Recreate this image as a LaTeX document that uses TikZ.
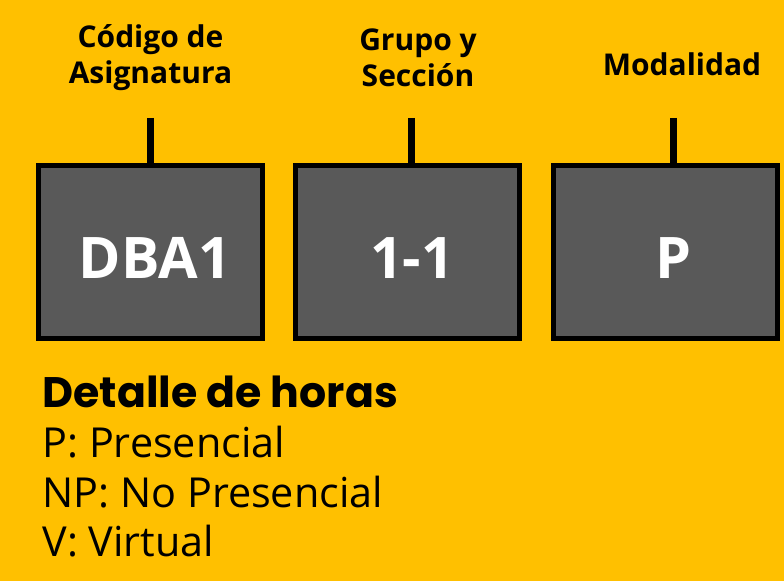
\documentclass[tikz,border=0pt]{standalone}
\usepackage{fontspec}
\setmainfont{Open Sans}
\newfontfamily\headfont{Poppins}
\usetikzlibrary{positioning}

\definecolor{fondo}{RGB}{255,192,0}
\definecolor{caja}{RGB}{89,89,89}

\tikzset{every picture/.style={line width=0.75pt}}
\tikzset{
  campo/.style={draw=black, fill=caja, line width=3.75pt, minimum width=224*0.75pt, minimum height=173*0.75pt, inner sep=0pt},
  valor/.style={anchor=base, inner sep=0pt, text=white, font=\bfseries\fontsize{43}{45}\selectfont},
  etiqueta/.style={inner sep=0.75pt, align=center, font=\bfseries\fontsize{22.5}{27}\selectfont},
  conector/.style={line width=5.25pt},
  leyenda/.style={anchor=base west, inner sep=0pt, font=\fontsize{31}{33}\selectfont}
}

\begin{document}
\begin{tikzpicture}[x=0.75pt,y=0.75pt,yscale=-1,xscale=1]
    %set diagram area: 784 x 581
    \fill[fondo] (0,0) rectangle (784,581);
    \useasboundingbox (0,0) rectangle (784,581);
    %Shape: Rectangle [campos]
    \node[campo] (codigo) at (150.5,252) {};
    \node[campo] (grupo) at (407.5,252) {};
    \node[campo] (modal) at (665,252) {};
    % Text Node
    \node[valor] (vcodigo) at (155,278) {DBA1};
    \node[valor] (vgrupo) at (412,278) {1-1};
    \node[valor] (vmodal) at (673,278) {P};
    % Text Node
    \node[etiqueta] (lcodigo) at (150.5,58) {Código de\\Asignatura};
    % Text Node
    \node[etiqueta] (lgrupo) at (418,58) {Grupo y\\Sección};
    % Text Node
    \node[etiqueta] (lmodal) at (682,64) {Modalidad};
    %Straight Lines
    \coordinate (tcodigo) at (150,118);
    \coordinate (tgrupo) at (411,118);
    \coordinate (tmodal) at (673,118);
    \draw[conector] (tcodigo) -- (tcodigo |- codigo.north);
    \draw[conector] (tgrupo) -- (tgrupo |- grupo.north);
    \draw[conector] (tmodal) -- (tmodal |- modal.north);
    % Text Node
    \node[leyenda, font=\headfont\bfseries\fontsize{32}{34}\selectfont] (titulo) at (42,407) {Detalle de horas};
    \node[leyenda] (presencial) at (42,457) {P: Presencial};
    \node[leyenda] (nopresencial) at (42,507) {NP: No Presencial};
    \node[leyenda] (virtual) at (42,556) {V: Virtual};
\end{tikzpicture}
\end{document}
